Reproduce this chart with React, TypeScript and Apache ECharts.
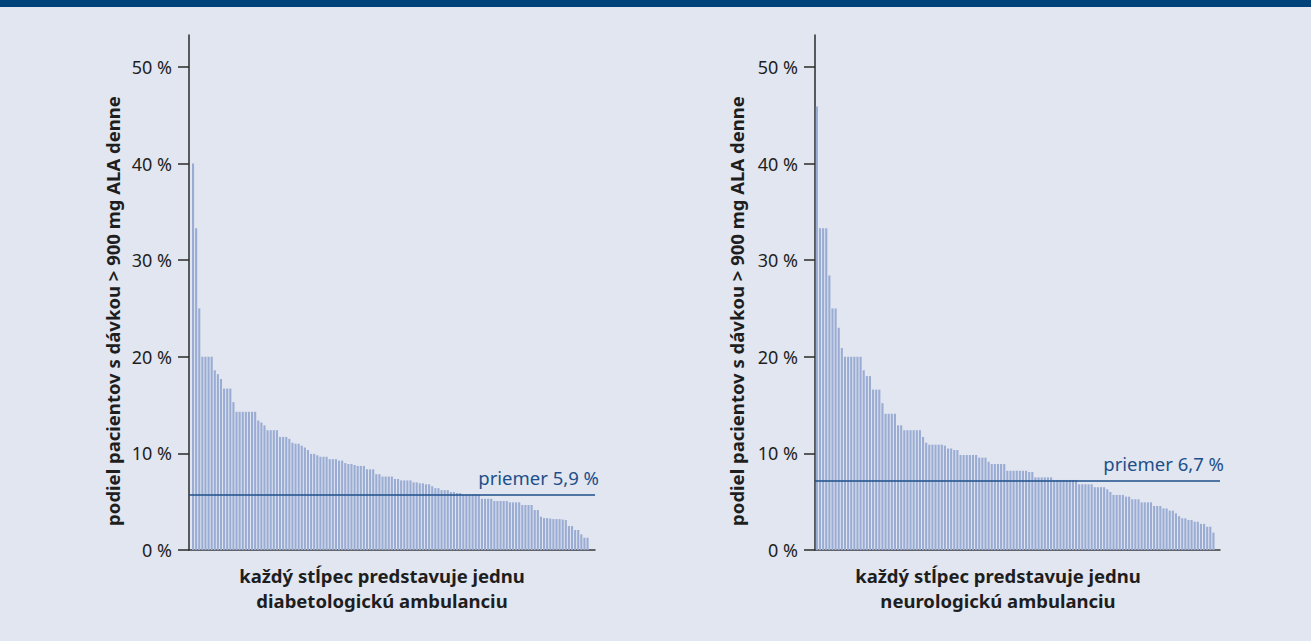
import React, { useEffect, useRef } from "react";
import * as echarts from "echarts";

// Share of patients per clinic (%), sorted descending — one bar per clinic
const leftValues = [
  40, 33.3, 25, 20, 20, 20, 20, 18.6, 18.2, 17.7,
  16.7, 16.7, 16.7, 15.3, 14.3, 14.3, 14.3, 14.3, 14.3, 14.3,
  14.3, 13.4, 13.2, 12.9, 12.4, 12.4, 12.4, 12.4, 11.7, 11.7,
  11.7, 11.5, 11.1, 11.0, 11.0, 10.8, 10.6, 10.35, 9.95, 9.95,
  9.8, 9.65, 9.65, 9.65, 9.4, 9.4, 9.4, 9.25, 9.25, 9.0,
  8.9, 8.9, 8.8, 8.7, 8.7, 8.7, 8.35, 8.35, 8.35, 7.85,
  7.85, 7.6, 7.6, 7.6, 7.6, 7.35, 7.35, 7.2, 7.2, 7.2,
  7.2, 7.0, 7.0, 6.9, 6.9, 6.8, 6.8, 6.6, 6.4, 6.4,
  6.2, 6.2, 6.2, 6.0, 6.0, 5.9, 5.9, 5.75, 5.75, 5.75,
  5.75, 5.75, 5.75, 5.3, 5.3, 5.3, 5.3, 5.07, 5.07, 5.07,
  5.07, 5.07, 4.93, 4.93, 4.93, 4.93, 4.66, 4.66, 4.66, 4.66,
  4.14, 4.14, 3.45, 3.3, 3.3, 3.25, 3.2, 3.2, 3.2, 3.15,
  3.1, 2.48, 2.48, 2.07, 2.07, 1.62, 1.27, 1.27,
];

const rightValues = [
  45.9, 33.3, 33.3, 33.3, 28.4, 25.0, 25.0, 23.0, 20.9, 20.0,
  20.0, 20.0, 20.0, 20.0, 20.0, 18.6, 18.0, 18.0, 16.6, 16.6,
  16.6, 15.2, 14.1, 14.1, 14.1, 14.1, 12.9, 12.9, 12.4, 12.4,
  12.4, 12.4, 12.4, 12.4, 11.7, 11.1, 10.9, 10.9, 10.9, 10.9,
  10.9, 10.8, 10.5, 10.5, 10.35, 10.35, 9.83, 9.83, 9.83, 9.83,
  9.83, 9.83, 9.56, 9.56, 9.56, 9.14, 8.9, 8.9, 8.9, 8.9,
  8.9, 8.2, 8.2, 8.2, 8.2, 8.2, 8.2, 8.2, 8.07, 8.07,
  7.52, 7.52, 7.52, 7.52, 7.52, 7.52, 7.25, 7.25, 7.25, 7.25,
  7.25, 7.25, 7.25, 7.25, 6.8, 6.8, 6.8, 6.8, 6.8, 6.5,
  6.5, 6.5, 6.5, 6.28, 6.0, 5.7, 5.7, 5.7, 5.7, 5.52,
  5.52, 5.25, 5.25, 5.25, 4.93, 4.93, 4.93, 4.93, 4.55, 4.55,
  4.55, 4.3, 4.3, 4.07, 4.07, 3.8, 3.5, 3.28, 3.28, 3.1,
  3.1, 2.93, 2.93, 2.7, 2.7, 2.41, 2.41, 1.8,
];

const yTicks = [0, 10, 20, 30, 40, 50];
const leftMean = 5.7;
const rightMean = 7.15;
const leftMeanLabel = "priemer 5,9 %";
const rightMeanLabel = "priemer 6,7 %";
const yTitle = "podiel pacientov s dávkou > 900 mg ALA denne";
const leftXTitle = "každý stĺpec predstavuje jednu\ndiabetologickú ambulanciu";
const rightXTitle = "každý stĺpec predstavuje jednu\nneurologickú ambulanciu";

const FONT = "'Noto Sans', sans-serif";
const BG = "#e1e6f0";
const TOP = "#00437a";
const BAR = "#9aacd3";
const MEAN = "#1d4f8a";
const AXIS = "#2a2a2a";
const TEXT = "#1e1e1e";

function yAxisDef(gridIndex: number) {
  return {
    gridIndex,
    type: "value",
    min: 0,
    max: 53.3,
    interval: 10,
    axisLine: { show: true, onZero: false, lineStyle: { color: AXIS, width: 1.5 } },
    axisTick: {
      show: true,
      length: 11,
      customValues: yTicks,
      lineStyle: { color: AXIS, width: 1.5 },
    },
    axisLabel: {
      customValues: yTicks,
      formatter: (v: number) => `${v} %`,
      margin: 17,
      fontSize: 18,
      color: TEXT,
      fontFamily: FONT,
    },
    splitLine: { show: false },
  };
}

function xAxisDef(gridIndex: number, min: number, max: number) {
  return {
    gridIndex,
    type: "value",
    min,
    max,
    axisLine: { show: true, onZero: false, lineStyle: { color: "#3a3a3a", width: 1.5 } },
    axisTick: { show: false },
    axisLabel: { show: false },
    splitLine: { show: false },
  };
}

function barSeries(idx: number, values: number[], mean: number, label: string) {
  return {
    type: "bar",
    xAxisIndex: idx,
    yAxisIndex: idx,
    barWidth: 2.1,
    data: values.map((v, i) => [i, v]),
    itemStyle: { color: BAR },
    markLine: {
      silent: true,
      symbol: "none",
      data: [{ yAxis: mean }],
      lineStyle: { color: MEAN, width: 1.5, type: "solid" },
      label: {
        show: true,
        position: "insideEndTop",
        formatter: label,
        color: MEAN,
        fontSize: 18.5,
        fontFamily: FONT,
        distance: [-4, 8],
      },
    },
  };
}

const titleStyle = {
  fill: TEXT,
  font: `bold 18.5px ${FONT}`,
  textAlign: "center",
  textVerticalAlign: "middle",
};

export default function App() {
  const ref = useRef<HTMLDivElement>(null);
  useEffect(() => {
    if (!ref.current) return;
    const chart = echarts.init(ref.current, undefined, { renderer: "svg" });
    chart.setOption({
      animation: false,
      backgroundColor: BG,
      grid: [
        { left: 189, top: 35, width: 406, height: 515 },
        { left: 815, top: 35, width: 405, height: 515 },
      ],
      xAxis: [xAxisDef(0, -1.3, 129.4), xAxisDef(1, -0.6, 129.1)],
      yAxis: [yAxisDef(0), yAxisDef(1)],
      series: [
        barSeries(0, leftValues, leftMean, leftMeanLabel),
        barSeries(1, rightValues, rightMean, rightMeanLabel),
      ],
      graphic: [
        { type: "rect", shape: { x: 0, y: 0, width: 1311, height: 7 }, style: { fill: TOP } },
        { type: "text", x: 112, y: 311, rotation: Math.PI / 2, style: { ...titleStyle, text: yTitle } },
        { type: "text", x: 736, y: 311, rotation: Math.PI / 2, style: { ...titleStyle, text: yTitle } },
        { type: "text", x: 382, y: 588, style: { ...titleStyle, text: leftXTitle, lineHeight: 25 } },
        { type: "text", x: 998, y: 588, style: { ...titleStyle, text: rightXTitle, lineHeight: 25 } },
      ],
    });
    return () => chart.dispose();
  }, []);
  return (
    <div
      ref={ref}
      style={{ position: "fixed", left: 0, top: 0, width: 1311, height: 641 }}
    />
  );
}
